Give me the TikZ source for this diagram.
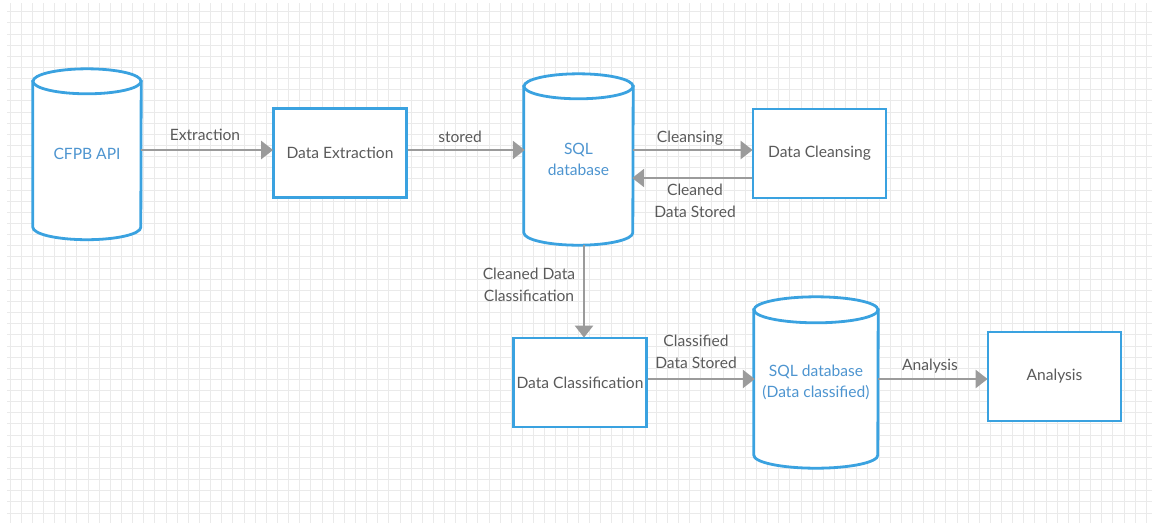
\documentclass[tikz,border=0pt]{standalone}
\usepackage{fontspec}
\setmainfont{Lato}
\usetikzlibrary{arrows.meta,calc}
\definecolor{boxblue}{HTML}{3AA2E0}
\definecolor{dbtext}{HTML}{4E95D0}
\definecolor{flowgray}{HTML}{9B9B9B}
\definecolor{labelgray}{HTML}{5A5A5A}
\definecolor{gridgray}{HTML}{EAEAEA}
\tikzset{
  gridline/.style={draw=gridgray, line width=0.8pt},
  stepbox/.style={draw=boxblue, fill=white, line width=2.8pt, minimum width=133pt,
    minimum height=89pt, inner sep=0pt, text=labelgray, font=\fontsize{15.6}{21}\selectfont},
  dbbody/.style={draw=none, inner sep=0pt, text=dbtext, align=center,
    font=\fontsize{15.6}{21}\selectfont},
  cylline/.style={draw=boxblue, fill=white, line width=2.8pt},
  flow/.style={draw=flowgray, line width=2.6pt,
    -{Triangle[length=12pt,width=18pt]}, shorten >=-1pt},
  flowlabel/.style={text=labelgray, align=center, inner sep=0pt,
    font=\fontsize{15.6}{22}\selectfont}
}
% draws the outline of a cylinder round a body node: #1 node, #2 x radius, #3 y radius
\newcommand\cylinderoutline[3]{%
  \path[cylline] (#1.north west) -- (#1.south west)
    arc[start angle=180, end angle=360, x radius=#2, y radius=#3]
    -- (#1.north east) -- cycle;
  \path[cylline] (#1.north) ellipse[x radius=#2, y radius=#3];
}
\begin{document}
\begin{tikzpicture}[x=1pt, y=-1pt]
\useasboundingbox (0,0) rectangle (1152,523);
\fill[white] (0,0) rectangle (1152,523);

% background grid
\foreach \i in {0,...,102}
  \draw[gridline] ({10+11.14*\i},3) -- ({10+11.14*\i},523);
\foreach \j in {0,...,45}
  \draw[gridline] (7,{11.7+11.14*\j}) -- (1152,{11.7+11.14*\j});

% database bodies (text nodes) and their cylinder outlines
\node[dbbody, minimum width=108pt, minimum height=145.5pt] (cfpb) at (87,154.25) {};
\cylinderoutline{cfpb}{54pt}{12.5pt}
\node[dbbody] at (cfpb.center) {CFPB API};

\node[dbbody, minimum width=109pt, minimum height=146pt] (sql) at (578.5,159.5) {};
\cylinderoutline{sql}{54.5pt}{12.5pt}
\node[dbbody] at (sql.center) {SQL\\database};

\node[dbbody, minimum width=124pt, minimum height=145pt] (sqlc) at (816,382.5) {};
\cylinderoutline{sqlc}{62pt}{13pt}
\node[dbbody] at (sqlc.center) {SQL database\\(Data classified)};

% process boxes
\node[stepbox] (extract) at (340,153) {Data Extraction};
\node[stepbox] (cleanse) at (819.5,153.5) {Data Cleansing};
\node[stepbox] (classify) at (580,382.5) {Data Classification};
\node[stepbox] (analysis) at (1054.5,376.5) {Analysis};

% connectors
\coordinate (e1) at ($(extract.west)+(0,-3)$);
\draw[flow] (cfpb.east |- e1) -- (e1);
\node[flowlabel] at (205,135) {Extraction};

\coordinate (e2) at ($(extract.east)+(0,-3)$);
\draw[flow] (e2) -- (sql.west |- e2);
\node[flowlabel] at (460,137) {stored};

\coordinate (e3) at ($(cleanse.west)+(0,-3.5)$);
\draw[flow] (sql.east |- e3) -- (e3);
\node[flowlabel] at (690,138) {Cleansing};

\coordinate (e4) at ($(cleanse.west)+(0,24.5)$);
\draw[flow] (e4) -- (sql.east |- e4);
\node[flowlabel] at (695,201) {Cleaned\\Data Stored};

\coordinate (e5) at ($(sql.south)+(5.5,12.5)$);
\draw[flow] (e5) -- (e5 |- classify.north);
\node[flowlabel] at (529,285) {Cleaned Data\\Classification};

\coordinate (e6) at ($(classify.east)+(0,-3.5)$);
\draw[flow] (e6) -- (sqlc.west |- e6);
\node[flowlabel] at (696,352) {Classified\\Data Stored};

\coordinate (e7) at ($(analysis.west)+(0,2.5)$);
\draw[flow] (sqlc.east |- e7) -- (e7);
\node[flowlabel] at (930,366) {Analysis};
\end{tikzpicture}
\end{document}
